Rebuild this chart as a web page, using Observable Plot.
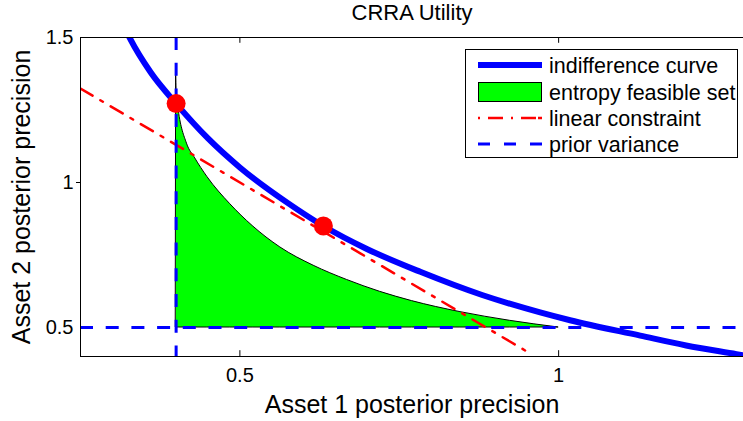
<!DOCTYPE html>
<html>
<head>
<meta charset="utf-8">
<script src="https://cdn.jsdelivr.net/npm/d3@7"></script>
<script src="https://cdn.jsdelivr.net/npm/@observablehq/plot@0.6"></script>
<style>
  html, body { margin: 0; padding: 0; background: white; }
</style>
</head>
<body>
<div id="chart"></div>
<script>
// Indifference curve
const curveX = [0.318, 0.328, 0.36, 0.40, 0.45, 0.50, 0.576, 0.631, 0.70, 0.783, 0.88, 0.971, 1.018, 1.128, 1.2, 1.279, 1.30];
const curveY = [1.54, 1.495, 1.38, 1.272, 1.152, 1.052, 0.928, 0.850, 0.770, 0.692, 0.612, 0.552, 0.525, 0.472, 0.438, 0.408, 0.400];
// Entropy feasible set upper boundary
const setX = [0.400, 0.401, 0.404, 0.417, 0.430, 0.449, 0.485, 0.520, 0.5635, 0.6157, 0.668, 0.720, 0.770, 0.846, 0.924, 1.0];
const setY = [1.38, 1.30, 1.249, 1.134, 1.083, 1.019, 0.925, 0.850, 0.776, 0.713, 0.664, 0.623, 0.591, 0.553, 0.523, 0.500];
// Linear constraint
const constraintX = [0.25, 0.955];
const constraintY = [1.324, 0.411];
// Optimal points
const optX = [0.4, 0.631];
const optY = [1.272, 0.850];
// Prior variance
const priorX = 0.4;
const priorY = 0.5;
// Ticks
const xTicks = [0.5, 1];
const yTicks = [0.5, 1, 1.5];
const legendLabels = ["indifference curve", "entropy feasible set", "linear constraint", "prior variance"];

const curve = curveX.map((x, i) => ({x, y: curveY[i]}));
const feas = setX.map((x, i) => ({x, y: setY[i]}));
const cons = constraintX.map((x, i) => ({x, y: constraintY[i]}));
const opt = optX.map((x, i) => ({x, y: optY[i]}));

const FONT = "'Liberation Sans', Arial, Helvetica, sans-serif";
const BLUE = "#0000ff", RED = "#ff0000", GREEN = "#00ff00";

const chart = Plot.plot({
  width: 743,
  height: 421,
  marginLeft: 80,
  marginRight: 0,
  marginTop: 37,
  marginBottom: 65,
  style: {fontFamily: FONT, background: "white", color: "black"},
  x: {domain: [0.25, 1.29]},
  y: {domain: [0.4, 1.5]},
  marks: [
    Plot.areaY(feas, {x: "x", y1: priorY, y2: "y", fill: GREEN, stroke: "black", strokeWidth: 1, curve: "monotone-x"}),
    Plot.line(curve, {x: "x", y: "y", stroke: BLUE, strokeWidth: 6, curve: "monotone-x", clip: true}),
    Plot.line(cons, {x: "x", y: "y", stroke: RED, strokeWidth: 2.5, strokeDasharray: "14,9,3,9", clip: true}),
    Plot.ruleX([priorX], {stroke: BLUE, strokeWidth: 3, strokeDasharray: "13,12.7"}),
    Plot.ruleY([priorY], {stroke: BLUE, strokeWidth: 3, strokeDasharray: "13,12.7"}),
    Plot.dot(opt, {x: "x", y: "y", r: 9.5, fill: RED, stroke: "none"}),
    // frame (left, top, bottom)
    Plot.ruleX([0.25], {stroke: "black", strokeWidth: 1}),
    Plot.ruleY([0.4, 1.5], {stroke: "black", strokeWidth: 1}),
    // inside x ticks
    Plot.ruleX(xTicks, {y1: 0.4, y2: 0.4 + 0.02, stroke: "black", strokeWidth: 1}),
    Plot.ruleX(xTicks, {y1: 1.5 - 0.02, y2: 1.5, stroke: "black", strokeWidth: 1}),
    Plot.axisX({ticks: xTicks, tickSize: 0, tickPadding: 11, fontSize: 20, tickFormat: d => String(d), label: null}),
    Plot.axisY({ticks: yTicks, tickSize: 0, tickPadding: 7, fontSize: 20, tickFormat: d => String(d), label: null}),
    Plot.axisY({ticks: [1], tickSize: 4, tickFormat: () => "", label: null}),
    Plot.text(["Asset 1 posterior precision"], {frameAnchor: "bottom", lineAnchor: "middle", dy: 48, fontSize: 25, fill: "black"}),
    Plot.text(["Asset 2 posterior precision"], {frameAnchor: "left", textAnchor: "middle", lineAnchor: "middle", rotate: -90, dx: -58.5, fontSize: 25, fill: "black"}),
    Plot.text(["CRRA Utility"], {frameAnchor: "top", lineAnchor: "middle", dy: -25, fontSize: 22, fill: "black"})
  ]
});

// Legend inside the axes (top right)
const svg = d3.select(chart);
const g = svg.append("g").attr("font-family", FONT).attr("font-size", 21.5).attr("text-anchor", "start");
g.append("rect").attr("x", 465.5).attr("y", 49.5).attr("width", 272).attr("height", 108)
  .attr("fill", "white").attr("stroke", "black").attr("stroke-width", 1);
const rowY = [65, 92, 118, 144];
g.append("line").attr("x1", 478).attr("x2", 542).attr("y1", rowY[0]).attr("y2", rowY[0])
  .attr("stroke", BLUE).attr("stroke-width", 6);
g.append("rect").attr("x", 478.5).attr("y", 82.5).attr("width", 63).attr("height", 19)
  .attr("fill", GREEN).attr("stroke", "black").attr("stroke-width", 1);
g.append("line").attr("x1", 478).attr("x2", 542).attr("y1", rowY[2]).attr("y2", rowY[2])
  .attr("stroke", RED).attr("stroke-width", 2.5).attr("stroke-dasharray", "2,8,15,8,2,8,15");
g.append("line").attr("x1", 478).attr("x2", 542).attr("y1", rowY[3]).attr("y2", rowY[3])
  .attr("stroke", BLUE).attr("stroke-width", 3).attr("stroke-dasharray", "12,14");
legendLabels.forEach((t, i) => {
  g.append("text").attr("x", 549).attr("y", rowY[i]).attr("dy", "0.35em")
    .attr("text-anchor", "start").attr("fill", "black").text(t);
});

document.getElementById("chart").appendChild(chart);
</script>
</body>
</html>
